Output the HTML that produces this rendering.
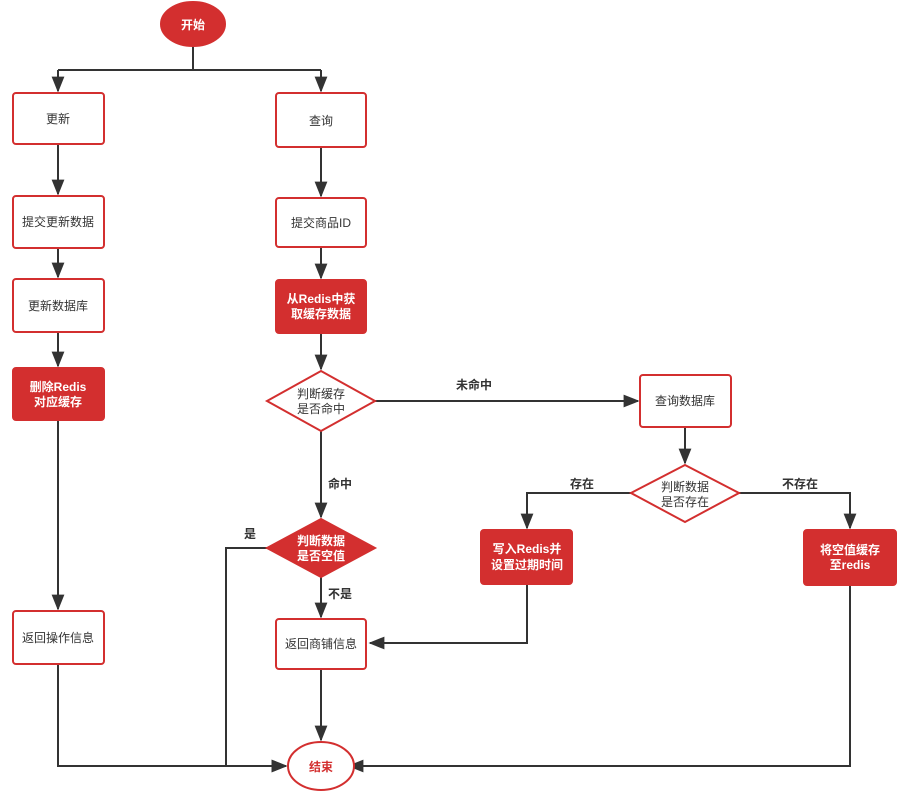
<!DOCTYPE html>
<html><head><meta charset="utf-8"><style>
body{margin:0;background:#fff}
text{font-family:"Liberation Sans","Noto Sans CJK SC",sans-serif;font-size:12px}
</style></head><body>
<svg width="899" height="795" viewBox="0 0 899 795" xmlns="http://www.w3.org/2000/svg">
<defs><marker id="a" viewBox="0 0 10 10" refX="9" refY="5" markerWidth="8" markerHeight="8" orient="auto"><path d="M0,1 L10,5 L0,9 Z" fill="#333"/></marker></defs>
<g stroke="#333" stroke-width="2" fill="none">
<path d="M193,46 V70 M58,70 H321"/>
<path d="M58,70 V91" marker-end="url(#a)"/>
<path d="M321,70 V91" marker-end="url(#a)"/>
<path d="M58,144 V194" marker-end="url(#a)"/>
<path d="M58,248 V277" marker-end="url(#a)"/>
<path d="M58,332 V366" marker-end="url(#a)"/>
<path d="M58,420 V609" marker-end="url(#a)"/>
<path d="M58,664 V766 H286" marker-end="url(#a)"/>
<path d="M321,147 V196" marker-end="url(#a)"/>
<path d="M321,247 V278" marker-end="url(#a)"/>
<path d="M321,333 V369" marker-end="url(#a)"/>
<path d="M375,401 H638" marker-end="url(#a)"/>
<path d="M321,431 V517" marker-end="url(#a)"/>
<path d="M321,577 V617" marker-end="url(#a)"/>
<path d="M267,548 H226 V766 H286" marker-end="url(#a)"/>
<path d="M321,669 V740" marker-end="url(#a)"/>
<path d="M685,427 V463" marker-end="url(#a)"/>
<path d="M631,493 H527 V528" marker-end="url(#a)"/>
<path d="M739,493 H850 V528" marker-end="url(#a)"/>
<path d="M527,584 V643 H370" marker-end="url(#a)"/>
<path d="M850,585 V766 H349" marker-end="url(#a)"/>
</g>
<g stroke="#d32f2f" stroke-width="2">
<ellipse cx="193" cy="24" rx="32" ry="22" fill="#d32f2f"/>
<rect x="13" y="93" width="91" height="51" rx="3" fill="#fff"/>
<rect x="13" y="196" width="91" height="52" rx="3" fill="#fff"/>
<rect x="13" y="279" width="91" height="53" rx="3" fill="#fff"/>
<rect x="13" y="368" width="91" height="52" rx="3" fill="#d32f2f"/>
<rect x="13" y="611" width="91" height="53" rx="3" fill="#fff"/>
<rect x="276" y="93" width="90" height="54" rx="3" fill="#fff"/>
<rect x="276" y="198" width="90" height="49" rx="3" fill="#fff"/>
<rect x="276" y="280" width="90" height="53" rx="3" fill="#d32f2f"/>
<polygon points="321,371 375,401 321,431 267,401" fill="#fff"/>
<polygon points="321,519 375,548 321,577 267,548" fill="#d32f2f"/>
<rect x="276" y="619" width="90" height="50" rx="3" fill="#fff"/>
<rect x="640" y="375" width="91" height="52" rx="3" fill="#fff"/>
<polygon points="685,465 739,493 685,522 631,493" fill="#fff"/>
<rect x="481" y="530" width="91" height="54" rx="3" fill="#d32f2f"/>
<rect x="804" y="530" width="92" height="55" rx="3" fill="#d32f2f"/>
<ellipse cx="321" cy="766" rx="33" ry="24" fill="#fff"/>
</g>
<g text-anchor="middle" fill="#333">
<text x="193" y="29" fill="#fff" font-weight="bold">开始</text>
<text x="58" y="123">更新</text>
<text x="58" y="226">提交更新数据</text>
<text x="58" y="310">更新数据库</text>
<text x="58" y="391" fill="#fff" font-weight="bold">删除Redis</text>
<text x="58" y="406" fill="#fff" font-weight="bold">对应缓存</text>
<text x="58" y="642">返回操作信息</text>
<text x="321" y="125">查询</text>
<text x="321" y="227">提交商品ID</text>
<text x="321" y="303" fill="#fff" font-weight="bold">从Redis中获</text>
<text x="321" y="318" fill="#fff" font-weight="bold">取缓存数据</text>
<text x="321" y="398">判断缓存</text>
<text x="321" y="413">是否命中</text>
<text x="321" y="545" fill="#fff" font-weight="bold">判断数据</text>
<text x="321" y="560" fill="#fff" font-weight="bold">是否空值</text>
<text x="321" y="648">返回商铺信息</text>
<text x="685" y="405">查询数据库</text>
<text x="685" y="491">判断数据</text>
<text x="685" y="506">是否存在</text>
<text x="527" y="553" fill="#fff" font-weight="bold">写入Redis并</text>
<text x="527" y="569" fill="#fff" font-weight="bold">设置过期时间</text>
<text x="850" y="554" fill="#fff" font-weight="bold">将空值缓存</text>
<text x="850" y="569" fill="#fff" font-weight="bold">至redis</text>
<text x="321" y="771" fill="#d32f2f" font-weight="bold">结束</text>
<g font-weight="bold" style="font-size:13px">
<text x="474" y="389">未命中</text>
<text x="340" y="488">命中</text>
<text x="250" y="538">是</text>
<text x="340" y="598">不是</text>
<text x="582" y="488">存在</text>
<text x="800" y="488">不存在</text>
</g>
</g>
</svg>
</body></html>
